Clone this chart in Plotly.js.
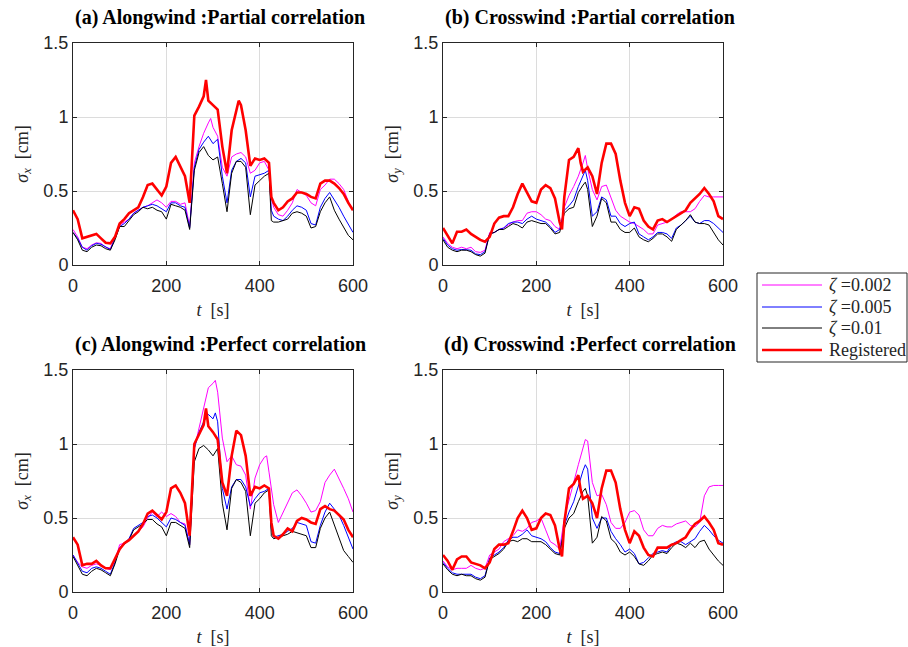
<!DOCTYPE html>
<html>
<head>
<meta charset="utf-8">
<script src="https://cdn.plot.ly/plotly-3.0.1.min.js"></script>
<style>html,body{margin:0;padding:0;background:#fff;}#chart{width:908px;height:647px;}</style>
</head>
<body>
<div id="chart"></div>
<script>
// ---------- data ----------
const tGrid = [0,10,20,30,40,50,60,70,80,90,100,110,120,130,140,150,160,170,180,190,200,210,220,230,240,250,260,270,280,290,300,310,320,330,340,350,360,370,380,390,400,410,420,430,440,450,460,470,480,490,500,510,520,530,540,550,560,570,580,590,600];
const panelTitles = ['(a) Alongwind :Partial correlation','(b) Crosswind :Partial correlation','(c) Alongwind :Perfect correlation','(d) Crosswind :Perfect correlation'];
const seriesNames = ['<i>ζ</i> =0.002','<i>ζ</i> =0.005','<i>ζ</i> =0.01','Registered'];
const xTicks = [0,200,400,600];
const yTicks = [0,0.5,1,1.5];
const yTickText = ['0','0.5','1','1.5'];

// extra time samples per series (added to the 10 s grid)
const exA_mag = [295,425], exA_blu = [425], exA_blk = [425], exA_reg = [285,355,425];
const exB_mag = [305], exB_blu = [305], exB_blk = [305], exB_reg = [255,295];
const exC_mag = [305,415], exC_blu = [305,425], exC_blk = [425], exC_reg = [285,425];
const exD_mag = [305], exD_blu = [305], exD_blk = [305], exD_reg = [255,295];

// (a) Alongwind, partial correlation
const a_mag = [0.24,0.19,0.12,0.11,0.135,0.15,0.146,0.12,0.11,0.19, 0.27,0.29,0.31,0.35,0.37,0.39,0.40,0.42,0.44,0.42, 0.39,0.43,0.43,0.41,0.42,0.26,0.69,0.80,0.89,0.96, 0.99, 0.93,0.87,0.66,0.60,0.73,0.75,0.76,0.73,0.62,0.64,0.69,0.70,0.64, 0.46, 0.39,0.34,0.33,0.37,0.42,0.51,0.49,0.47,0.42,0.40,0.51,0.54,0.58,0.58,0.55,0.51,0.43,0.37];
const a_blu = [0.22,0.18,0.12,0.10,0.13,0.146,0.14,0.12,0.105,0.18, 0.26,0.28,0.31,0.35,0.37,0.39,0.40,0.41,0.40,0.38, 0.36,0.42,0.42,0.40,0.39,0.25,0.66,0.78,0.83,0.87, 0.82,0.85,0.60,0.42,0.64,0.70,0.72,0.69,0.46,0.60,0.61,0.62,0.64, 0.37, 0.33,0.31,0.30,0.33,0.37,0.40,0.39,0.37,0.28,0.27,0.39,0.45,0.49,0.44,0.39,0.33,0.27,0.22];
const a_blk = [0.22,0.17,0.10,0.09,0.12,0.135,0.13,0.11,0.10,0.17, 0.26,0.26,0.30,0.34,0.36,0.39,0.38,0.39,0.37,0.36, 0.31,0.41,0.40,0.39,0.37,0.24,0.64,0.76,0.80,0.74, 0.71,0.73,0.55,0.36,0.62,0.70,0.70,0.66,0.34,0.54,0.57,0.60,0.62, 0.30, 0.29,0.29,0.30,0.31,0.35,0.36,0.35,0.33,0.25,0.26,0.36,0.42,0.46,0.37,0.31,0.25,0.20,0.17];
const a_reg = [0.37,0.31,0.18,0.19,0.195,0.21,0.18,0.15,0.146,0.19, 0.28,0.31,0.35,0.37,0.39,0.46,0.54,0.55,0.51,0.47, 0.53,0.69,0.73,0.67,0.60,0.42,1.01,1.07,1.14, 1.25, 1.11,1.08,1.05,0.80,0.62,0.91,1.05, 1.11, 1.08,0.91,0.67,0.72,0.71,0.72,0.69, 0.46, 0.42,0.37,0.39,0.43,0.45,0.49,0.49,0.48,0.46,0.45,0.55,0.57,0.57,0.55,0.52,0.48,0.42,0.37];

// (b) Crosswind, partial correlation
const b_mag = [0.19,0.146,0.12,0.11,0.12,0.11,0.12,0.09,0.085,0.10, 0.22,0.22,0.24,0.25,0.27,0.29,0.30,0.30,0.35,0.36, 0.36,0.34,0.31,0.30,0.26,0.24,0.39,0.47,0.53,0.60,0.69, 0.74, 0.65,0.51,0.44,0.53,0.54,0.46,0.37,0.33,0.31, 0.29,0.28,0.26,0.24,0.21,0.21,0.27,0.28,0.29,0.31, 0.34,0.36,0.36,0.36,0.38,0.43,0.47,0.46,0.46,0.46, 0.46];
const b_blu = [0.18,0.135,0.11,0.10,0.105,0.10,0.10,0.075,0.07,0.09, 0.21,0.22,0.24,0.25,0.28,0.29,0.29,0.28,0.31,0.33, 0.31,0.30,0.29,0.26,0.22,0.24,0.37,0.40,0.44,0.53,0.60, 0.64, 0.57,0.33,0.36,0.46,0.44,0.33,0.33,0.28,0.26, 0.28,0.29,0.21,0.19,0.17,0.19,0.22,0.22,0.21,0.18, 0.25,0.27,0.30,0.33,0.29,0.28,0.30,0.30,0.28,0.25, 0.22];
const b_blk = [0.17,0.12,0.10,0.09,0.10,0.10,0.09,0.07,0.06,0.08, 0.21,0.22,0.24,0.24,0.26,0.28,0.27,0.25,0.29,0.30, 0.29,0.28,0.28,0.25,0.21,0.22,0.35,0.38,0.39,0.49,0.54, 0.56, 0.51,0.26,0.33,0.45,0.42,0.29,0.29,0.24,0.22, 0.22,0.25,0.19,0.17,0.157,0.18,0.21,0.21,0.19,0.16, 0.24,0.27,0.30,0.34,0.29,0.28,0.28,0.27,0.22,0.17, 0.135];
const b_reg = [0.25,0.20,0.146,0.225,0.225,0.24,0.21,0.19,0.17,0.157, 0.19,0.28,0.32,0.33,0.33,0.39,0.48,0.55,0.49,0.43, 0.42,0.51,0.54,0.52,0.45,0.29, 0.24, 0.46,0.71,0.73,0.79, 0.69, 0.63,0.66,0.60,0.48,0.69,0.82,0.82,0.75,0.57,0.42, 0.33,0.39,0.38,0.30,0.26,0.24,0.30,0.31,0.29,0.31, 0.33,0.35,0.37,0.42,0.45,0.48,0.52,0.48,0.43,0.33, 0.31];

// (c) Alongwind, perfect correlation
const c_mag = [0.25,0.20,0.17,0.16,0.18,0.19,0.18,0.16,0.15,0.21, 0.32,0.33,0.35,0.38,0.41,0.44,0.50,0.54,0.51,0.54, 0.51,0.53,0.51,0.47,0.46,0.32,0.97,1.11,1.24,1.38,1.41, 1.43, 1.35,1.04,0.88,0.92,0.86,0.85,0.79,0.56,0.77,0.86,0.91, 0.92, 0.81,0.59,0.47,0.54,0.61,0.67,0.69,0.65,0.60,0.54,0.55,0.61,0.74,0.79,0.83,0.77,0.70,0.63,0.54];
const c_blu = [0.25,0.19,0.14,0.13,0.16,0.17,0.16,0.14,0.12,0.20, 0.30,0.33,0.36,0.43,0.45,0.47,0.51,0.52,0.50,0.47, 0.44,0.50,0.49,0.47,0.45,0.32,0.97,1.08,1.15,1.20,1.17, 1.21, 1.15,0.70,0.56,0.71,0.76,0.76,0.71,0.58,0.63,0.67,0.68,0.70, 0.43, 0.37,0.38,0.39,0.41,0.43,0.47,0.46,0.45,0.34,0.33,0.45,0.54,0.60,0.56,0.52,0.45,0.37,0.29];
const c_blk = [0.24,0.18,0.12,0.11,0.14,0.16,0.15,0.13,0.11,0.19, 0.29,0.32,0.35,0.42,0.44,0.46,0.49,0.49,0.46,0.44, 0.38,0.47,0.47,0.45,0.43,0.30,0.88,0.97,0.99,0.96, 0.92,0.97,0.60,0.42,0.70,0.76,0.74,0.68,0.38,0.60,0.63,0.67,0.69, 0.38, 0.36,0.37,0.38,0.39,0.41,0.40,0.39,0.38,0.30,0.30,0.43,0.50,0.54,0.45,0.36,0.28,0.24,0.20];
const c_reg = [0.37,0.32,0.18,0.19,0.19,0.21,0.18,0.16,0.16,0.23, 0.29,0.33,0.35,0.38,0.41,0.46,0.53,0.55,0.52,0.49, 0.54,0.70,0.72,0.67,0.60,0.38,1.00,1.06,1.13, 1.24, 1.12,1.08,1.03,0.74,0.65,0.92,1.09,1.06,0.92,0.65,0.71,0.70,0.72,0.70, 0.47, 0.38,0.36,0.39,0.43,0.41,0.48,0.50,0.49,0.47,0.46,0.56,0.58,0.56,0.55,0.52,0.49,0.42,0.37];

// (d) Crosswind, perfect correlation
const d_mag = [0.21,0.17,0.15,0.16,0.16,0.16,0.18,0.16,0.15,0.16, 0.25,0.27,0.29,0.34,0.36,0.38,0.42,0.41,0.43,0.47, 0.48,0.50,0.42,0.34,0.32,0.29,0.50,0.63,0.74,0.86,0.97, 1.03, 1.02,0.74,0.65,0.66,0.59,0.47,0.43,0.43,0.47, 0.54,0.55,0.52,0.42,0.38,0.38,0.43,0.45,0.44,0.44, 0.46,0.47,0.48,0.45,0.44,0.47,0.65,0.71,0.72,0.72, 0.72];
const d_blu = [0.20,0.16,0.13,0.12,0.12,0.12,0.12,0.10,0.09,0.11, 0.23,0.25,0.27,0.30,0.35,0.37,0.37,0.39,0.42,0.38, 0.37,0.36,0.34,0.30,0.27,0.26,0.45,0.54,0.61,0.72,0.82, 0.86, 0.83,0.50,0.43,0.50,0.50,0.41,0.36,0.32,0.27, 0.29,0.26,0.19,0.20,0.23,0.26,0.27,0.28,0.27,0.32, 0.34,0.34,0.32,0.34,0.36,0.41,0.45,0.42,0.38,0.35, 0.33];
const d_blk = [0.19,0.15,0.12,0.11,0.12,0.11,0.11,0.09,0.08,0.10, 0.22,0.24,0.26,0.29,0.34,0.35,0.34,0.36,0.36,0.34, 0.34,0.34,0.32,0.29,0.26,0.25,0.43,0.50,0.53,0.61,0.68, 0.70, 0.65,0.33,0.37,0.51,0.48,0.36,0.33,0.27,0.25, 0.27,0.24,0.19,0.18,0.21,0.25,0.26,0.27,0.26,0.30, 0.33,0.32,0.30,0.33,0.30,0.34,0.35,0.29,0.25,0.21, 0.18];
const d_reg = [0.25,0.21,0.15,0.22,0.24,0.24,0.20,0.19,0.18,0.16, 0.20,0.29,0.32,0.32,0.33,0.41,0.50,0.55,0.50,0.42, 0.43,0.50,0.53,0.52,0.45,0.29, 0.24, 0.47,0.70,0.73,0.79, 0.69, 0.63,0.65,0.60,0.50,0.70,0.82,0.82,0.74,0.56,0.42, 0.33,0.41,0.38,0.30,0.25,0.24,0.30,0.30,0.30,0.32, 0.33,0.35,0.37,0.42,0.46,0.48,0.51,0.47,0.42,0.33, 0.32];

// ---------- build ----------
function times(extra){ return tGrid.concat(extra).sort((p,q)=>p-q); }
const colors = ['#ff00ff','#0000ff','#000000','#ff0000'];
const widths = [1,1,1,2.6];
const panels = [
  {vals:[a_mag,a_blu,a_blk,a_reg], ex:[exA_mag,exA_blu,exA_blk,exA_reg]},
  {vals:[b_mag,b_blu,b_blk,b_reg], ex:[exB_mag,exB_blu,exB_blk,exB_reg]},
  {vals:[c_mag,c_blu,c_blk,c_reg], ex:[exC_mag,exC_blu,exC_blk,exC_reg]},
  {vals:[d_mag,d_blu,d_blk,d_reg], ex:[exD_mag,exD_blu,exD_blk,exD_reg]}
];
const traces = [];
panels.forEach((p,pi)=>{
  const sfx = pi===0 ? '' : String(pi+1);
  p.vals.forEach((v,si)=>{
    const t = times(p.ex[si]);
    if (t.length !== v.length) console.error('length mismatch', pi, si, t.length, v.length);
    traces.push({
      x: t, y: v, type:'scatter', mode:'lines',
      name: seriesNames[si], showlegend:false,
      line:{color:colors[si], width:widths[si]},
      xaxis:'x'+sfx, yaxis:'y'+sfx, hoverinfo:'skip'
    });
  });
});

const W=908, H=647;
const px = v => v/W, py = v => 1-v/H;
const xDom = [[px(73),px(353)],[px(443),px(723)]];
const yDom = [[py(265),py(43)],[py(592),py(370)]];
const ink = '#262626';
function xa(dom, anchor){
  return {domain:dom, anchor:anchor, range:[0,600], tickvals:xTicks, ticktext:xTicks.map(String),
    showgrid:true, gridcolor:'#dcdcdc', gridwidth:1, zeroline:false,
    showline:true, linecolor:ink, linewidth:1, mirror:'ticks', ticks:'inside', ticklen:4, tickcolor:ink,
    tickfont:{family:'Liberation Sans, Arial, sans-serif', size:18, color:ink}, ticklabelstandoff:4,
    title:{text:'<i>t</i>  [s]', font:{family:'Liberation Serif, serif', size:18, color:ink}, standoff:8},
    automargin:false, fixedrange:true};
}
function ya(dom, anchor, sub){
  return {domain:dom, anchor:anchor, range:[0,1.5], tickvals:yTicks, ticktext:yTickText,
    showgrid:true, gridcolor:'#dcdcdc', gridwidth:1, zeroline:false,
    showline:true, linecolor:ink, linewidth:1, mirror:'ticks', ticks:'inside', ticklen:4, tickcolor:ink,
    tickfont:{family:'Liberation Sans, Arial, sans-serif', size:18, color:ink},
    title:{text:'<i>σ</i><sub><i>'+sub+'</i></sub>  [cm]', font:{family:'Liberation Serif, serif', size:18, color:ink}, standoff:10},
    automargin:false, fixedrange:true};
}

// legend drawn as a framed key (positions in pixels)
const legBox = {x0:757, x1:907, y0:273, y1:362};
const legRows = [285, 307, 328, 350];
const shapes = [{type:'rect', xref:'paper', yref:'paper', x0:px(legBox.x0), x1:px(legBox.x1), y0:py(legBox.y1), y1:py(legBox.y0),
  line:{color:ink, width:1}, fillcolor:'#fff', layer:'above'}];
const annotations = [];
seriesNames.forEach((nm,i)=>{
  shapes.push({type:'line', xref:'paper', yref:'paper', x0:px(762), x1:px(822), y0:py(legRows[i]), y1:py(legRows[i]),
    line:{color:colors[i], width:widths[i]}, layer:'above'});
  annotations.push({text:nm, xref:'paper', yref:'paper', x:px(827), y:py(legRows[i]), xanchor:'left', yanchor:'middle',
    showarrow:false, font:{family:'Liberation Serif, serif', size:18, color:ink}});
});
panelTitles.forEach((txt,i)=>{
  annotations.push({text:'<b>'+txt+'</b>', xref:'paper', yref:'paper',
    x:(xDom[i%2][0]+xDom[i%2][1])/2 + 7/W, y: i<2 ? py(17) : py(344),
    xanchor:'center', yanchor:'middle', showarrow:false,
    font:{family:'Liberation Serif, serif', size:20, color:'#000'}});
});

const layout = {
  width:W, height:H, margin:{l:0,r:0,t:0,b:0}, paper_bgcolor:'#fff', plot_bgcolor:'#fff',
  showlegend:false,
  xaxis: xa(xDom[0],'y'),  yaxis: ya(yDom[0],'x','x'),
  xaxis2: xa(xDom[1],'y2'), yaxis2: ya(yDom[0],'x2','y'),
  xaxis3: xa(xDom[0],'y3'), yaxis3: ya(yDom[1],'x3','x'),
  xaxis4: xa(xDom[1],'y4'), yaxis4: ya(yDom[1],'x4','y'),
  shapes: shapes, annotations: annotations
};
Plotly.newPlot('chart', traces, layout, {staticPlot:true, displayModeBar:false});
</script>
</body>
</html>
